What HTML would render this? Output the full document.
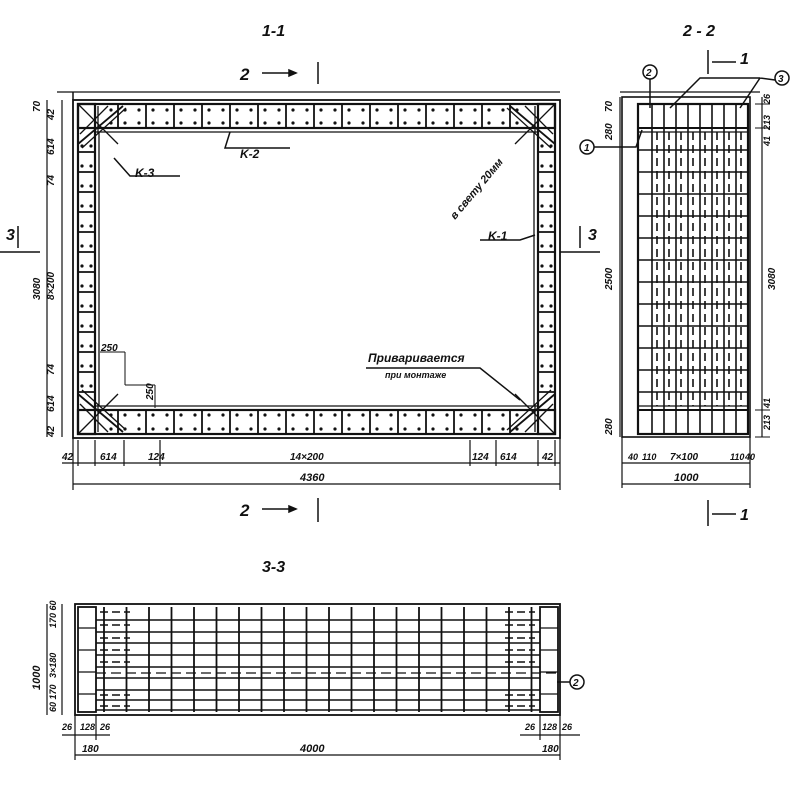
<!DOCTYPE html>
<html><head><meta charset="utf-8"><style>
html,body{margin:0;padding:0;background:#fff;width:800px;height:800px;overflow:hidden}
svg{display:block}
text{font-family:"Liberation Sans",sans-serif;font-style:italic;font-weight:bold;fill:#111}
</style></head><body>
<svg id="s" width="800" height="800" viewBox="0 0 800 800" xmlns="http://www.w3.org/2000/svg" stroke="#111" fill="none" stroke-width="1.5">
<text x="262" y="36" font-size="16" stroke="none">1-1</text>
<text x="683" y="36" font-size="16" stroke="none">2 - 2</text>
<text x="262" y="572" font-size="16" stroke="none">3-3</text>
<text x="240" y="80" font-size="17" stroke="none">2</text>
<path d="M262 73 H296 M318 62 V84"/><path d="M296 73 l-7 -3 v6 z" fill="#111"/>
<text x="240" y="516" font-size="17" stroke="none">2</text>
<path d="M262 509 H296 M318 498 V522"/><path d="M296 509 l-7 -3 v6 z" fill="#111"/>
<text x="6" y="240" font-size="16" stroke="none">3</text>
<path d="M18 226 V248 M0 252 H40"/>
<text x="588" y="240" font-size="16" stroke="none">3</text>
<path d="M580 226 V248 M560 252 H600"/>
<path d="M708 50 V74 M712 62 H736"/><text x="740" y="64" font-size="16" stroke="none">1</text>
<path d="M708 500 V526 M712 514 H736"/><text x="740" y="520" font-size="16" stroke="none">1</text>
<g id="g"></g>
<text x="40" y="112" font-size="10" stroke="none" transform="rotate(-90 40 112)">70</text>
<text x="54" y="120" font-size="10" stroke="none" transform="rotate(-90 54 120)">42</text>
<text x="54" y="155" font-size="10" stroke="none" transform="rotate(-90 54 155)">614</text>
<text x="54" y="186" font-size="10" stroke="none" transform="rotate(-90 54 186)">74</text>
<text x="40" y="300" font-size="10" stroke="none" transform="rotate(-90 40 300)">3080</text>
<text x="54" y="300" font-size="10" stroke="none" transform="rotate(-90 54 300)">8×200</text>
<text x="54" y="375" font-size="10" stroke="none" transform="rotate(-90 54 375)">74</text>
<text x="54" y="412" font-size="10" stroke="none" transform="rotate(-90 54 412)">614</text>
<text x="54" y="437" font-size="10" stroke="none" transform="rotate(-90 54 437)">42</text>
<text x="62" y="460" font-size="10" stroke="none">42</text>
<text x="100" y="460" font-size="10" stroke="none">614</text>
<text x="148" y="460" font-size="10" stroke="none">124</text>
<text x="290" y="460" font-size="10" stroke="none">14×200</text>
<text x="472" y="460" font-size="10" stroke="none">124</text>
<text x="500" y="460" font-size="10" stroke="none">614</text>
<text x="542" y="460" font-size="10" stroke="none">42</text>
<text x="300" y="481" font-size="11" stroke="none">4360</text>
<text x="101" y="351" font-size="10" stroke="none">250</text>
<text x="153" y="400" font-size="10" stroke="none" transform="rotate(-90 153 400)">250</text>
<text x="135" y="177" font-size="12" stroke="none">K-3</text>
<text x="240" y="158" font-size="12" stroke="none">K-2</text>
<text x="488" y="240" font-size="12" stroke="none">K-1</text>
<text x="455" y="220" font-size="11" stroke="none" transform="rotate(-50 455 220)">в свету 20мм</text>
<text x="368" y="362" font-size="12" stroke="none">Привариваетcя</text>
<text x="385" y="378" font-size="9" stroke="none">при монтаже</text>
<path d="M366 368 H480 L520 400 M114 158 L130 176 H180 M230 132 L225 148 H290 M535 235 L520 240 H480"/>
<text x="612" y="112" font-size="10" stroke="none" transform="rotate(-90 612 112)">70</text>
<text x="612" y="140" font-size="10" stroke="none" transform="rotate(-90 612 140)">280</text>
<text x="612" y="290" font-size="10" stroke="none" transform="rotate(-90 612 290)">2500</text>
<text x="612" y="435" font-size="10" stroke="none" transform="rotate(-90 612 435)">280</text>
<text x="775" y="290" font-size="10" stroke="none" transform="rotate(-90 775 290)">3080</text>
<text x="770" y="104" font-size="9" stroke="none" transform="rotate(-90 770 104)">26</text>
<text x="770" y="130" font-size="9" stroke="none" transform="rotate(-90 770 130)">213</text>
<text x="770" y="146" font-size="9" stroke="none" transform="rotate(-90 770 146)">41</text>
<text x="770" y="408" font-size="9" stroke="none" transform="rotate(-90 770 408)">41</text>
<text x="770" y="430" font-size="9" stroke="none" transform="rotate(-90 770 430)">213</text>
<text x="628" y="460" font-size="9" stroke="none">40</text>
<text x="642" y="460" font-size="9" stroke="none">110</text>
<text x="670" y="460" font-size="10" stroke="none">7×100</text>
<text x="730" y="460" font-size="9" stroke="none">110</text>
<text x="745" y="460" font-size="9" stroke="none">40</text>
<text x="674" y="481" font-size="11" stroke="none">1000</text>
<circle cx="650" cy="72" r="7"/><text x="646" y="76" font-size="10" stroke="none">2</text>
<circle cx="782" cy="78" r="7"/><text x="778" y="82" font-size="10" stroke="none">3</text>
<circle cx="587" cy="147" r="7"/><text x="584" y="151" font-size="10" stroke="none">1</text>
<path d="M650 79 V108 M594 147 H636 L642 130 M775 80 L760 78 L740 108 M760 78 H700 L670 108"/>
<text x="40" y="690" font-size="11" stroke="none" transform="rotate(-90 40 690)">1000</text>
<text x="56" y="628" font-size="9" stroke="none" transform="rotate(-90 56 628)">170 60</text>
<text x="56" y="678" font-size="9" stroke="none" transform="rotate(-90 56 678)">3×180</text>
<text x="56" y="712" font-size="9" stroke="none" transform="rotate(-90 56 712)">60 170</text>
<text x="62" y="730" font-size="9" stroke="none">26</text>
<text x="80" y="730" font-size="9" stroke="none">128</text>
<text x="100" y="730" font-size="9" stroke="none">26</text>
<text x="82" y="752" font-size="10" stroke="none">180</text>
<text x="300" y="752" font-size="11" stroke="none">4000</text>
<text x="525" y="730" font-size="9" stroke="none">26</text>
<text x="542" y="730" font-size="9" stroke="none">128</text>
<text x="562" y="730" font-size="9" stroke="none">26</text>
<text x="542" y="752" font-size="10" stroke="none">180</text>
<circle cx="577" cy="682" r="7"/><text x="573" y="686" font-size="10" stroke="none">2</text>
<path d="M557 682 H570"/>
</svg>
<script>
const g=document.getElementById('g');let h='';
const L=(a,b,c,d,w,da)=>h+=`<line x1="${a}" y1="${b}" x2="${c}" y2="${d}"${w?` stroke-width="${w}"`:''}${da?` stroke-dasharray="${da}"`:''}/>`;
const R=(x,y,w,hh,sw)=>h+=`<rect x="${x}" y="${y}" width="${w}" height="${hh}"${sw?` stroke-width="${sw}"`:''}/>`;
const D=(x,y)=>h+=`<circle cx="${x}" cy="${y}" r="1.6" fill="#111" stroke="none"/>`;
R(73,100,487,338,1.8);L(57,92,560,92,1.2);L(73,92,73,100);
R(78,104,477,24,2.2);R(78,410,477,24,2.2);R(78,104,17,330,2.2);R(538,104,17,330,2.2);
L(95,132,538,132,1.3);L(95,406,538,406,1.3);L(99,132,99,406,1.3);L(534,132,534,406,1.3);
for(let x=118;x<530;x+=28){L(x,104,x,128,1.8);L(x,410,x,434,1.8);D(x-7,110);D(x+7,110);D(x-7,123);D(x+7,123);D(x-7,415);D(x+7,415);D(x-7,429);D(x+7,429);}
for(let y=152;y<400;y+=20){L(78,y,95,y,1.8);L(538,y,555,y,1.8);D(82,y-6);D(91,y-6);D(542,y-6);D(551,y-6);}
[[1,1,78,104],[-1,1,555,104],[1,-1,78,434],[-1,-1,555,434]].forEach(([sx,sy,x,y])=>{
 L(x,y+sy*40,x+sx*45,y+sy*2,1.8);L(x+sx*4,y+sy*44,x+sx*48,y+sy*4,1.3);
 L(x,y,x+sx*40,y+sy*40,1.3);L(x+sx*20,y+sy*2,x+sx*20,y+sy*30,1.3);
 L(x+sx*30,y+sy*2,x+sx*2,y+sy*30,1.3)});
L(47,100,47,437,1.2);L(62,100,62,437,1.2);L(62,463,560,463,1.2);L(73,484,560,484,1.2);
L(73,437,73,490,1.2);L(560,437,560,490,1.2);[78,95,124,160,470,496,538,555].forEach(x=>L(x,440,x,466,1.2));
L(100,352,125,352,1);L(125,352,125,385,1);L(125,385,155,385,1);L(155,385,155,408,1);
R(622,97,128,340,1.6);R(638,104,110,330,2.2);
L(638,128,748,128,2);L(638,132,748,132,1.2);L(638,410,748,410,2);L(638,406,748,406,1.2);
[652,664,676,688,700,712,724,736].forEach(x=>{L(x,104,x,434,1.6);L(x+5,132,x+5,406,1.6,'8 5')});
for(let y=150;y<400;y+=22){L(638,y,748,y,1.6);}
L(620,92,760,92,1.2);L(622,437,622,488,1.2);L(750,437,750,488,1.2);L(622,463,750,463,1.2);L(622,484,750,484,1.2);
L(762,97,762,437,1.2);L(755,104,770,104,1);L(755,128,770,128,1);L(755,437,770,437,1);L(755,410,770,410,1);
L(620,97,620,437,1.2);
R(75,604,485,111,1.8);R(78,607,18,105,1.8);R(540,607,18,105,1.8);
[628,650,672,694].forEach(y=>{L(78,y,96,y,1.3);L(540,y,558,y,1.3)});
[620,632,643,655,667,678,690,700,710].forEach(y=>L(96,y,540,y,1.6));
for(let x=104;x<540;x+=22.5)L(x,607,x,712,1.8);
[612,625,638,650,662,695,706].forEach(y=>{L(100,y,130,y,1.4,'8 4');L(505,y,535,y,1.4,'8 4')});
L(96,673,560,673,1.2,'10 5');
L(47,604,47,715,1.2);L(62,604,62,715,1.2);L(62,735,110,735,1.2);L(520,735,580,735,1.2);L(75,755,560,755,1.2);
L(75,715,75,760,1.2);L(560,715,560,760,1.2);L(96,715,96,740,1.2);L(540,715,540,740,1.2);
g.innerHTML=h;
</script>
</body></html>
